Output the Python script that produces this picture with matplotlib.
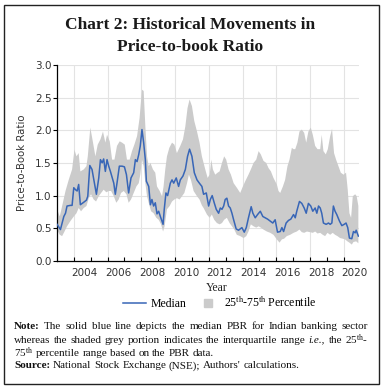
import matplotlib.pyplot as plt
import numpy as np
from matplotlib.lines import Line2D
from matplotlib.patches import Rectangle

plt.rcParams['mathtext.fontset'] = 'custom'
plt.rcParams['mathtext.rm'] = 'Liberation Serif'
plt.rcParams['mathtext.it'] = 'Liberation Serif:italic'
plt.rcParams['mathtext.bf'] = 'Liberation Serif:bold'

# median PBR (decimal year, ratio)
median_x = [2002.36, 2002.56, 2002.66, 2002.76, 2002.86, 2002.95, 2003.15, 2003.25, 2003.35, 2003.45,
            2003.55, 2003.64, 2003.74, 2003.90, 2004.10, 2004.18, 2004.30, 2004.43, 2004.57, 2004.69,
            2004.83, 2004.93, 2005.03, 2005.12, 2005.22, 2005.32, 2005.42, 2005.52, 2005.72, 2005.81,
            2005.91, 2006.05, 2006.21, 2006.35, 2006.47, 2006.60, 2006.74, 2006.90, 2007.00, 2007.10,
            2007.20, 2007.29, 2007.39, 2007.49, 2007.59, 2007.65, 2007.79, 2007.89, 2007.98, 2008.08,
            2008.18, 2008.28, 2008.38, 2008.48, 2008.64, 2008.71, 2008.81, 2008.91, 2009.07, 2009.17,
            2009.27, 2009.42, 2009.56, 2009.66, 2009.82, 2009.96, 2010.09, 2010.21, 2010.35, 2010.49,
            2010.65, 2010.79, 2010.94, 2011.04, 2011.20, 2011.34, 2011.44, 2011.55, 2011.67, 2011.79,
            2011.93, 2012.03, 2012.13, 2012.23, 2012.32, 2012.42, 2012.52, 2012.62, 2012.72, 2012.82,
            2012.97, 2013.11, 2013.31, 2013.45, 2013.57, 2013.70, 2013.86, 2013.96, 2014.10, 2014.24,
            2014.40, 2014.55, 2014.69, 2014.83, 2014.99, 2015.14, 2015.28, 2015.42, 2015.58, 2015.68,
            2015.78, 2015.93, 2016.07, 2016.21, 2016.37, 2016.47, 2016.56, 2016.72, 2016.86, 2017.00,
            2017.12, 2017.25, 2017.39, 2017.51, 2017.65, 2017.75, 2017.85, 2017.95, 2018.04, 2018.14,
            2018.30, 2018.44, 2018.54, 2018.64, 2018.73, 2018.83, 2018.93, 2019.09, 2019.23, 2019.37,
            2019.48, 2019.58, 2019.68, 2019.82, 2019.92, 2020.02, 2020.08, 2020.21]
median_y = [0.56, 0.48, 0.58, 0.68, 0.73, 0.84, 0.85, 0.85, 1.12, 1.09,
            1.07, 1.17, 0.86, 0.89, 0.93, 0.99, 1.46, 1.40, 1.19, 1.02,
            1.27, 1.55, 1.50, 1.56, 1.37, 1.55, 1.45, 1.37, 1.19, 1.02,
            1.19, 1.45, 1.45, 1.44, 1.32, 1.04, 1.27, 1.35, 1.55, 1.52,
            1.63, 1.76, 2.01, 1.81, 1.55, 1.22, 1.14, 0.86, 0.94, 0.84,
            0.89, 0.72, 0.76, 0.68, 0.56, 0.79, 1.04, 1.00, 1.19, 1.24,
            1.19, 1.27, 1.14, 1.24, 1.30, 1.40, 1.60, 1.71, 1.60, 1.35,
            1.24, 1.19, 1.14, 1.02, 1.04, 0.84, 0.94, 1.00, 0.89, 0.79,
            0.73, 0.81, 0.79, 0.84, 0.94, 0.96, 0.84, 0.81, 0.73, 0.63,
            0.49, 0.47, 0.51, 0.44, 0.51, 0.66, 0.83, 0.73, 0.66, 0.71,
            0.76, 0.68, 0.66, 0.64, 0.61, 0.58, 0.63, 0.44, 0.45, 0.51,
            0.45, 0.58, 0.62, 0.64, 0.71, 0.66, 0.76, 0.91, 0.88, 0.81,
            0.73, 0.88, 0.84, 0.76, 0.81, 0.73, 0.84, 0.81, 0.73, 0.58,
            0.56, 0.58, 0.56, 0.58, 0.84, 0.76, 0.71, 0.61, 0.54, 0.56,
            0.58, 0.51, 0.35, 0.34, 0.45, 0.43, 0.47, 0.38]

# 75th percentile
p75_x = [2002.36, 2002.52, 2002.66, 2002.86, 2003.05, 2003.25, 2003.39, 2003.51, 2003.64, 2003.74,
         2003.94, 2004.10, 2004.18, 2004.33, 2004.49, 2004.63, 2004.77, 2004.93, 2005.08, 2005.22,
         2005.32, 2005.48, 2005.62, 2005.76, 2005.91, 2006.07, 2006.21, 2006.37, 2006.50, 2006.66,
         2006.80, 2006.94, 2007.10, 2007.25, 2007.39, 2007.49, 2007.59, 2007.69, 2007.79, 2007.89,
         2008.04, 2008.18, 2008.28, 2008.44, 2008.58, 2008.67, 2008.77, 2008.87, 2009.01, 2009.17,
         2009.31, 2009.46, 2009.66, 2009.82, 2009.96, 2010.09, 2010.21, 2010.35, 2010.49, 2010.65,
         2010.80, 2010.94, 2011.14, 2011.28, 2011.40, 2011.50, 2011.59, 2011.73, 2011.87, 2011.99,
         2012.13, 2012.26, 2012.38, 2012.52, 2012.66, 2012.82, 2013.01, 2013.21, 2013.37, 2013.51,
         2013.70, 2013.84, 2014.00, 2014.16, 2014.30, 2014.43, 2014.59, 2014.75, 2014.89, 2015.03,
         2015.18, 2015.38, 2015.48, 2015.58, 2015.74, 2015.87, 2016.01, 2016.13, 2016.27, 2016.37,
         2016.47, 2016.60, 2016.72, 2016.86, 2017.00, 2017.12, 2017.25, 2017.39, 2017.51, 2017.65,
         2017.79, 2017.95, 2018.04, 2018.14, 2018.28, 2018.40, 2018.54, 2018.65, 2018.77, 2018.89,
         2019.03, 2019.17, 2019.33, 2019.48, 2019.58, 2019.68, 2019.78, 2019.88, 2020.02, 2020.11,
         2020.21]
p75_y = [0.79, 0.68, 0.84, 1.07, 1.24, 1.40, 1.70, 1.60, 1.65, 1.37,
         1.40, 1.45, 1.60, 2.04, 1.81, 1.60, 1.78, 1.86, 1.98, 1.81,
         1.93, 1.83, 1.55, 1.55, 1.76, 1.83, 1.81, 1.78, 1.55, 1.55,
         1.68, 1.78, 1.91, 2.19, 2.62, 2.60, 2.06, 1.60, 1.45, 1.50,
         1.40, 1.35, 1.14, 1.07, 0.99, 1.14, 1.40, 1.60, 1.73, 1.81,
         1.78, 1.65, 1.76, 1.86, 2.06, 2.34, 2.47, 2.37, 2.14, 1.98,
         1.81, 1.60, 1.40, 1.27, 1.32, 1.55, 1.40, 1.32, 1.35, 1.37,
         1.50, 1.60, 1.55, 1.40, 1.32, 1.19, 1.12, 1.04, 1.14, 1.22,
         1.32, 1.40, 1.50, 1.55, 1.68, 1.63, 1.53, 1.50, 1.42, 1.37,
         1.27, 1.17, 1.07, 1.04, 1.14, 1.24, 1.45, 1.55, 1.73, 1.71,
         1.71, 1.81, 1.98, 2.01, 1.96, 1.81, 1.98, 2.04, 1.93, 1.76,
         1.71, 1.71, 1.93, 1.68, 1.63, 1.71, 1.91, 2.02, 1.65, 1.55,
         1.45, 1.35, 1.32, 1.35, 1.09, 0.73, 0.66, 0.99, 1.02, 0.99,
         0.84]

# 25th percentile
p25_x = [2002.36, 2002.52, 2002.66, 2002.80, 2002.95, 2003.15, 2003.35, 2003.51, 2003.64, 2003.78,
         2003.94, 2004.10, 2004.24, 2004.37, 2004.53, 2004.67, 2004.83, 2004.97, 2005.12, 2005.28,
         2005.42, 2005.56, 2005.72, 2005.87, 2006.01, 2006.15, 2006.31, 2006.47, 2006.60, 2006.74,
         2006.90, 2007.06, 2007.20, 2007.29, 2007.39, 2007.49, 2007.59, 2007.69, 2007.79, 2007.93,
         2008.08, 2008.24, 2008.38, 2008.52, 2008.64, 2008.73, 2008.87, 2009.03, 2009.17, 2009.31,
         2009.46, 2009.62, 2009.76, 2009.90, 2010.06, 2010.17, 2010.29, 2010.45, 2010.65, 2010.80,
         2010.94, 2011.04, 2011.24, 2011.40, 2011.53, 2011.67, 2011.83, 2011.99, 2012.13, 2012.26,
         2012.42, 2012.58, 2012.72, 2012.86, 2013.01, 2013.21, 2013.41, 2013.57, 2013.70, 2013.84,
         2014.00, 2014.16, 2014.30, 2014.43, 2014.59, 2014.79, 2014.99, 2015.18, 2015.38, 2015.54,
         2015.68, 2015.81, 2015.97, 2016.17, 2016.37, 2016.56, 2016.72, 2016.86, 2017.00, 2017.16,
         2017.35, 2017.51, 2017.65, 2017.79, 2017.95, 2018.10, 2018.24, 2018.38, 2018.54, 2018.69,
         2018.83, 2018.97, 2019.13, 2019.29, 2019.42, 2019.56, 2019.68, 2019.82, 2019.92, 2020.08,
         2020.21]
p25_y = [0.48, 0.40, 0.38, 0.45, 0.53, 0.61, 0.68, 0.73, 0.81, 0.76,
         0.81, 0.84, 0.96, 1.02, 0.94, 0.91, 0.99, 1.04, 1.09, 1.05,
         1.07, 1.07, 0.99, 0.89, 0.94, 1.04, 1.07, 1.02, 0.89, 0.94,
         1.04, 1.14, 1.19, 1.32, 1.55, 1.45, 1.19, 0.99, 0.89, 0.76,
         0.73, 0.66, 0.63, 0.56, 0.45, 0.53, 0.79, 0.84, 0.91, 0.94,
         0.96, 0.94, 0.99, 1.04, 1.19, 1.32, 1.24, 1.07, 0.99, 0.94,
         0.85, 0.81, 0.71, 0.66, 0.71, 0.63, 0.58, 0.56, 0.58, 0.63,
         0.66, 0.58, 0.53, 0.48, 0.40, 0.38, 0.35, 0.38, 0.45, 0.56,
         0.53, 0.51, 0.53, 0.51, 0.48, 0.45, 0.43, 0.40, 0.33, 0.28,
         0.33, 0.34, 0.38, 0.40, 0.43, 0.45, 0.48, 0.44, 0.43, 0.45,
         0.44, 0.43, 0.45, 0.42, 0.43, 0.40, 0.38, 0.43, 0.40, 0.43,
         0.40, 0.38, 0.35, 0.34, 0.33, 0.30, 0.28, 0.25, 0.29, 0.30,
         0.27]

year_labels = [2004, 2006, 2008, 2010, 2012, 2014, 2016, 2018, 2020]
y_ticks = [0.0, 0.5, 1.0, 1.5, 2.0, 2.5, 3.0]

BLUE = '#3866b7'
GREY = '#cbcbcb'
SERIF = 'Liberation Serif'

fig = plt.figure(figsize=(3.83, 3.86), dpi=100)
ax = fig.add_axes([0.149, 0.324, 0.788, 0.508])

band = ax.fill(np.concatenate([p75_x, p25_x[::-1]]),
               np.concatenate([p75_y, p25_y[::-1]]),
               color=GREY, lw=0, zorder=2)[0]
line, = ax.plot(median_x, median_y, color=BLUE, lw=1.1, zorder=3)

ax.set_xlim(2002.36, 2020.24)
ax.set_ylim(0, 3.0)
ax.set_yticks(y_ticks)
ax.set_yticklabels([f'{v:.1f}' for v in y_ticks])
ax.set_xticks(year_labels)
ax.set_xticklabels([str(y) for y in year_labels])
# the tick marks sit a bit before each label, as in the source chart
ax.set_xticks(np.arange(2003.35, 2020.0, 1.0), minor=True)
ax.tick_params(axis='x', which='major', length=0, pad=5)
ax.tick_params(axis='x', which='minor', direction='in', length=3, width=0.8)
ax.tick_params(axis='y', which='major', direction='out', length=3, width=0.8, pad=1)
ax.tick_params(labelsize=7.5, labelcolor='#333333')
for lab in ax.get_xticklabels() + ax.get_yticklabels():
    lab.set_family('DejaVu Sans')

ax.set_axisbelow(True)
for v in y_ticks[1:]:
    ax.axhline(v, color='#e3e3e3', lw=0.8, zorder=0)
for v in np.arange(2003.35, 2020.0, 2.0):
    ax.axvline(v, color='#e3e3e3', lw=0.8, zorder=0)

for s in ['top', 'right']:
    ax.spines[s].set_visible(False)
for s in ['left', 'bottom']:
    ax.spines[s].set_linewidth(0.9)

fig.text(0.057, 0.578, 'Price-to-Book Ratio', rotation=90, ha='center', va='center',
         fontsize=7.3, family='DejaVu Sans', color='#333333')
fig.text(0.567, 0.254, 'Year', ha='center', va='center', fontsize=8.5, family=SERIF, color='#222222')

title_kw = dict(ha='center', va='center', fontsize=12.5, family=SERIF, fontweight='bold', color='#1a1a1a')
fig.text(0.497, 0.935, 'Chart 2: Historical Movements in', **title_kw)
fig.text(0.497, 0.878, 'Price-to-book Ratio', **title_kw)

patch = Line2D([], [], marker='s', ls='none', color=GREY, markersize=5.5)
fig.legend([line, patch], ['Median', r'25$^{\mathrm{th}}$-75$^{\mathrm{th}}$ Percentile'],
           loc='center', bbox_to_anchor=(0.574, 0.215), ncol=2, frameon=False,
           handlelength=1.9, handletextpad=0.4, columnspacing=0.9,
           prop={'family': SERIF, 'size': 8.5})

# notes with justified lines
renderer = fig.canvas.get_renderer()
W = fig.bbox.width
NOTE = 8.0


def place_words(tokens, x0, y, x1=None):
    arts = [fig.text(0, y, t, fontsize=NOTE, family=SERIF, color='#111111', va='center', **kw)
            for t, kw in tokens]
    widths = [a.get_window_extent(renderer).width for a in arts]
    if x1 is None:
        gap = NOTE * 100 / 72 * 0.25
    else:
        gap = ((x1 - x0) * W - sum(widths)) / (len(arts) - 1)
    x = x0 * W
    for a, w in zip(arts, widths):
        a.set_x(x / W)
        x += w + gap


def plain(words):
    return [(w, {}) for w in words.split()]


bold = {'fontweight': 'bold'}
place_words([('Note:', bold)] + plain('The solid blue line depicts the median PBR for Indian banking sector'),
            0.037, 0.155, 0.961)
place_words(plain('whereas the shaded grey portion indicates the interquartile range')
            + [('i.e.,', {'fontstyle': 'italic'})] + plain('the')
            + [(r'25$^{\mathrm{th}}$-', {})], 0.037, 0.119, 0.961)
place_words([(r'75$^{\mathrm{th}}$', {})] + plain('percentile range based on the PBR data.'), 0.037, 0.085)
place_words([('Source:', bold)] + plain("National Stock Exchange (NSE); Authors' calculations."), 0.037, 0.052)

fig.add_artist(Rectangle((4 / 383, 1 - 384 / 386), 375 / 383, 379 / 386, transform=fig.transFigure,
                         fill=False, lw=1.0, edgecolor='#222222'))

fig.savefig('out.png', dpi=100)
